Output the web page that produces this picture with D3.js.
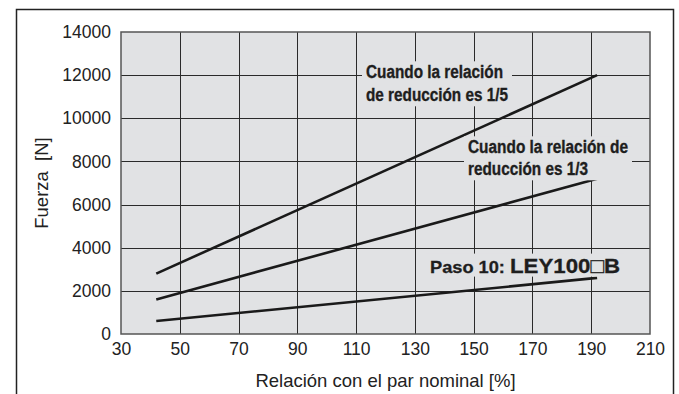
<!DOCTYPE html>
<html>
<head>
<meta charset="utf-8">
<script src="https://cdn.jsdelivr.net/npm/d3@7"></script>
<style>
  body { margin: 0; background: #fff; }
  svg { display: block; font-family: "Liberation Sans", Arial, sans-serif; }
</style>
</head>
<body>
<div id="chart"></div>
<script>
// datos
const xTicks = [30, 50, 70, 90, 110, 130, 150, 170, 190, 210];
const yTicks = [0, 2000, 4000, 6000, 8000, 10000, 12000, 14000];
const torque = [42, 192];
const force15 = [2800, 12000];   // reducción 1/5
const force13 = [1600, 7200];    // reducción 1/3
const forceLead = [600, 2600];   // paso 10

const W = 679, H = 394;
const margin = {top: 32, right: 29, bottom: 60, left: 121};
const width = W - margin.left - margin.right;
const height = H - margin.top - margin.bottom;

const svg = d3.select("#chart").append("svg")
    .attr("width", W).attr("height", H);

// marco exterior
svg.append("path")
    .attr("d", `M16.5,${H} V9.5 H673.5 V${H}`)
    .attr("fill", "none").attr("stroke", "#222").attr("stroke-width", 1.5);

const g = svg.append("g").attr("transform", `translate(${margin.left},${margin.top})`);

const x = d3.scaleLinear().domain([30, 210]).range([0, width]);
const y = d3.scaleLinear().domain([0, 14000]).range([height, 0]);

g.append("rect").attr("width", width).attr("height", height).attr("fill", "#e1e2e4");

// rejilla
g.selectAll(".vg").data(xTicks.slice(1, -1)).join("line")
    .attr("x1", d => Math.round(x(d)) + 0.5).attr("x2", d => Math.round(x(d)) + 0.5)
    .attr("y1", 0).attr("y2", height)
    .attr("stroke", "#2a2a2a").attr("stroke-width", 1);
g.selectAll(".hg").data(yTicks.slice(1, -1)).join("line")
    .attr("y1", d => Math.round(y(d)) + 0.5).attr("y2", d => Math.round(y(d)) + 0.5)
    .attr("x1", 0).attr("x2", width)
    .attr("stroke", "#2a2a2a").attr("stroke-width", 1);

g.append("rect").attr("width", width).attr("height", height)
    .attr("fill", "none").attr("stroke", "#555").attr("stroke-width", 1.5);

// ejes (solo etiquetas)
const xAxis = g.append("g").attr("transform", `translate(0,${height})`)
    .call(d3.axisBottom(x).tickValues(xTicks).tickSize(0).tickPadding(9).tickFormat(d3.format("d")));
const yAxis = g.append("g")
    .call(d3.axisLeft(y).tickValues(yTicks).tickSize(0).tickPadding(10).tickFormat(d3.format("d")));
[xAxis, yAxis].forEach(a => {
    a.select(".domain").remove();
    a.selectAll("text").attr("font-size", 17.5).attr("fill", "#222")
        .attr("font-family", "Liberation Sans, Arial, sans-serif");
});

// líneas
const line = d3.line().x(d => x(d[0])).y(d => y(d[1]));
[force15, force13, forceLead].forEach(s => {
    g.append("path")
        .datum(torque.map((t, i) => [t, s[i]]))
        .attr("d", line)
        .attr("fill", "none").attr("stroke", "#1a1a1a").attr("stroke-width", 2.6);
});

// etiquetas con fondo
function label(lines, px, py, lh, size) {
    const grp = g.append("g");
    lines.forEach((t, i) => grp.append("text")
        .attr("x", px).attr("y", py + i * lh)
        .attr("dy", "0.35em")
        .attr("font-size", size).attr("font-weight", "bold").attr("fill", "#1e1e1e")
        .attr("stroke", "#1e1e1e").attr("stroke-width", 0.35)
        .attr("textLength", t.w).attr("lengthAdjust", "spacingAndGlyphs")
        .text(t.s));
    const bb = grp.node().getBBox();
    grp.insert("rect", "text")
        .attr("x", bb.x - 4).attr("y", bb.y - 1)
        .attr("width", bb.width + 8).attr("height", bb.height + 2)
        .attr("fill", "#e1e2e4");
}
label([{s: "Cuando la relación", w: 137}, {s: "de reducción es 1/5", w: 142}],
      366 - margin.left, 72 - margin.top, 23, 18);
label([{s: "Cuando la relación de", w: 160}, {s: "reducción es 1/3", w: 120}],
      468 - margin.left, 147 - margin.top, 22, 18);

// Paso 10
const pg = g.append("g");
const pt = pg.append("text")
    .attr("x", 430 - margin.left).attr("y", 267 - margin.top).attr("dy", "0.35em")
    .attr("font-weight", "bold").attr("fill", "#1e1e1e")
    .attr("stroke", "#1e1e1e").attr("stroke-width", 0.3);
pt.append("tspan").attr("font-size", 17)
    .attr("textLength", 80).attr("lengthAdjust", "spacingAndGlyphs").text("Paso 10: ");
pt.append("tspan").attr("font-size", 21)
    .attr("textLength", 110).attr("lengthAdjust", "spacingAndGlyphs").text("LEY100□B");
const pb = pg.node().getBBox();
pg.insert("rect", "text")
    .attr("x", pb.x - 4).attr("y", pb.y).attr("width", pb.width + 8).attr("height", pb.height)
    .attr("fill", "#e1e2e4");

// títulos de ejes
svg.append("text")
    .attr("x", margin.left + width / 2).attr("y", 381).attr("dy", "0.35em")
    .attr("text-anchor", "middle").attr("font-size", 18.5).attr("fill", "#222")
    .text("Relación con el par nominal [%]");
svg.append("text")
    .attr("transform", `translate(42,${margin.top + height / 2}) rotate(-90)`)
    .attr("dy", "0.35em")
    .attr("text-anchor", "middle").attr("font-size", 18.5).attr("fill", "#222")
    .text("Fuerza\u00a0\u00a0[N]");
</script>
</body>
</html>
